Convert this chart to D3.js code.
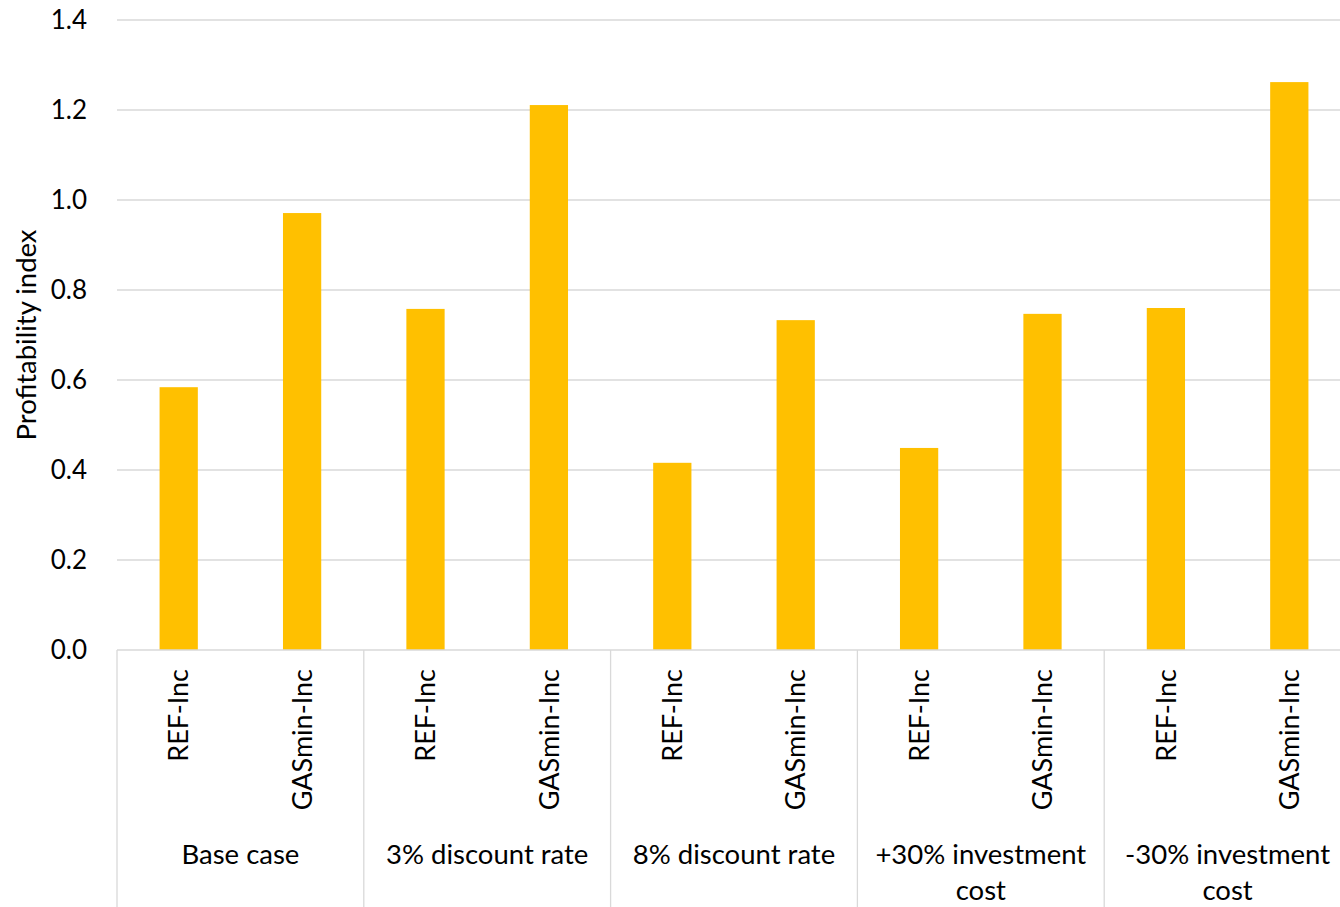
<!DOCTYPE html>
<html>
<head>
<meta charset="utf-8">
<script src="https://cdn.jsdelivr.net/npm/d3@7"></script>
<style>
  html, body { margin: 0; padding: 0; background: #fff; }
  text { font-family: Lato, "Open Sans", sans-serif; fill: #000; }
</style>
</head>
<body>
<svg id="chart" width="1340" height="907"></svg>
<script>
// Scenario groups, each with two cases
const groups = [["Base case"], ["3% discount rate"], ["8% discount rate"], ["+30% investment", "cost"], ["-30% investment", "cost"]];
const cases = ["REF-Inc", "GASmin-Inc"];
const refInc = [0.584, 0.758, 0.416, 0.449, 0.760];
const gasminInc = [0.971, 1.211, 0.733, 0.747, 1.262];
const yTicks = [0, 0.2, 0.4, 0.6, 0.8, 1.0, 1.2, 1.4];

const rows = [];
groups.forEach((g, i) => {
  rows.push({ key: i + "-0", group: i, label: cases[0], value: refInc[i] });
  rows.push({ key: i + "-1", group: i, label: cases[1], value: gasminInc[i] });
});

const svg = d3.select("#chart");
const plotLeft = 117, plotRight = 1351, plotTop = 20, plotBottom = 650, svgH = 907;

const x = d3.scaleBand().domain(rows.map(d => d.key)).range([plotLeft, plotRight])
  .paddingInner(0.69).paddingOuter(0.345);
const y = d3.scaleLinear().domain([0, 1.4]).range([plotBottom, plotTop]);

// Horizontal gridlines
svg.append("g").selectAll("line").data(yTicks.slice(1)).join("line")
  .attr("x1", plotLeft).attr("x2", plotRight)
  .attr("y1", d => y(d)).attr("y2", d => y(d))
  .attr("stroke", "#d9d9d9").attr("stroke-width", 1.3);

// Y tick labels
svg.append("g").selectAll("text").data(yTicks).join("text")
  .attr("x", 87).attr("y", d => y(d)).attr("dy", "0.35em")
  .attr("text-anchor", "end").attr("font-size", 26)
  .text(d => d3.format(".1f")(d));

// Y axis title
svg.append("text")
  .attr("transform", `translate(36,${(plotTop + plotBottom) / 2}) rotate(-90)`)
  .attr("text-anchor", "middle").attr("font-size", 27.5)
  .text("Profitability index");

// Bars
svg.append("g").selectAll("rect").data(rows).join("rect")
  .attr("x", d => x(d.key)).attr("width", x.bandwidth())
  .attr("y", d => y(d.value)).attr("height", d => y(0) - y(d.value))
  .attr("fill", "#ffc000");

// Category axis line and group dividers
svg.append("line").attr("x1", plotLeft).attr("x2", plotRight)
  .attr("y1", plotBottom).attr("y2", plotBottom)
  .attr("stroke", "#d9d9d9").attr("stroke-width", 1.3);
const dividers = groups.map((g, i) => x(i + "-0") - x.step() * x.paddingOuter());
dividers.push(plotRight);
svg.append("g").selectAll("line").data(dividers).join("line")
  .attr("x1", d => d).attr("x2", d => d)
  .attr("y1", plotBottom).attr("y2", svgH)
  .attr("stroke", "#d9d9d9").attr("stroke-width", 1.3);

// Case labels, rotated
svg.append("g").selectAll("text").data(rows).join("text")
  .attr("transform", d => `translate(${x(d.key) + x.bandwidth() / 2},669) rotate(-90)`)
  .attr("text-anchor", "end").attr("dy", "0.36em").attr("font-size", 27)
  .text(d => d.label);

// Group labels
const gl = svg.append("g").selectAll("text").data(groups).join("text")
  .attr("text-anchor", "middle").attr("font-size", 27.5)
  .attr("x", (d, i) => (x(i + "-0") + x(i + "-1") + x.bandwidth()) / 2)
  .attr("y", 864);
gl.selectAll("tspan").data(d => d).join("tspan")
  .attr("x", function () { return this.parentNode.getAttribute("x"); })
  .attr("dy", (d, j) => j === 0 ? 0 : 36)
  .text(d => d);
</script>
</body>
</html>
